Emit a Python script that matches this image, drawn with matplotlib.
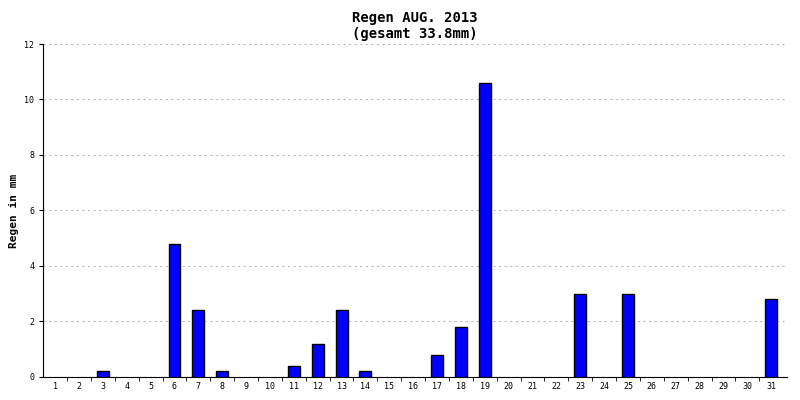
import numpy as np
import matplotlib
matplotlib.use("Agg")
import matplotlib.pyplot as plt

days = list(range(1, 32))
rain = [0, 0, 0.2, 0, 0, 4.8, 2.4, 0.2, 0, 0, 0.4, 1.2, 2.4, 0.2, 0, 0,
        0.8, 1.8, 10.6, 0, 0, 0, 3.0, 0, 3.0, 0, 0, 0, 0, 0, 2.8]
title = "Regen AUG. 2013\n(gesamt 33.8mm)"

fig = plt.figure(figsize=(8, 4), dpi=100)
ax = fig.add_axes([0.054, 0.058, 0.93, 0.832])
bd = [d for d, r in zip(days, rain) if r > 0]
br = [r for r in rain if r > 0]
ax.bar(bd, br, width=0.5, color="#0000ff", edgecolor="black", linewidth=1, zorder=3)
ax.set_xlim(0.5, 31.67)
ax.set_ylim(0, 12)
ax.set_xticks(days)
ax.set_xticklabels([str(d) for d in days], fontsize=6, family="DejaVu Sans Mono")
ax.set_xticks([d + 0.5 for d in days[:-1]], minor=True)
ax.set_yticks(range(0, 13, 2))
ax.set_yticklabels([str(v) for v in range(0, 13, 2)], fontsize=6, family="DejaVu Sans Mono")
ax.yaxis.grid(True, color="#bbbbbb", linestyle=(0, (2, 3)), linewidth=0.8, zorder=0)
for s in ["top", "right"]:
    ax.spines[s].set_visible(False)
ax.tick_params(length=3)
ax.tick_params(axis="x", which="major", length=0)
ax.tick_params(axis="x", which="minor", length=3)
ax.set_ylabel("Regen in mm", fontsize=8, family="DejaVu Sans Mono", fontweight="bold")
ax.set_title(title, fontsize=10, family="DejaVu Sans Mono", fontweight="bold", pad=4)
fig.savefig("out.png")
